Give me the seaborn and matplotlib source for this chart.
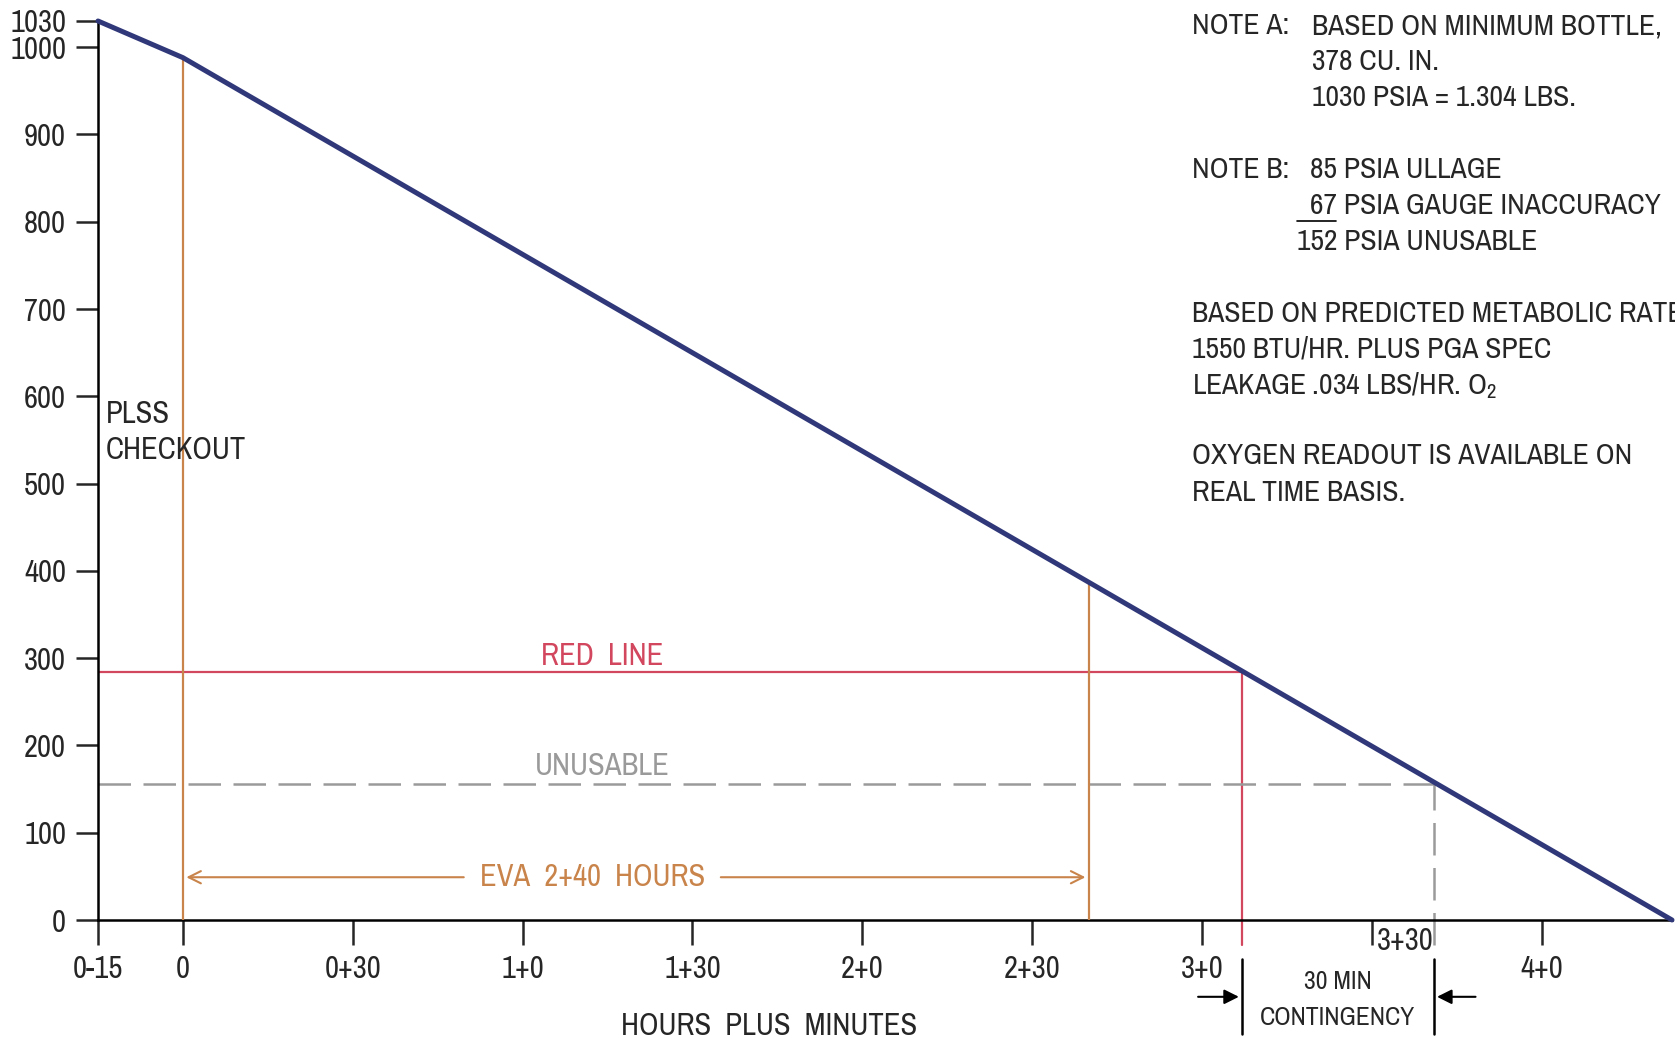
import matplotlib
matplotlib.use('Agg')
import matplotlib.pyplot as plt
from matplotlib import font_manager
import seaborn as sns
import pandas as pd

# PLSS O2 bottle pressure vs time (minutes from PLSS checkout)
time_min = [-15, 0, 263]
o2_psia = [1030, 988, 0]

xtick_pos = [-15, 0, 30, 60, 90, 120, 150, 180, 210, 240]
xtick_labels = ['0-15', '0', '0+30', '1+0', '1+30', '2+0', '2+30', '3+0', '', '4+0']
ytick_pos = [0, 100, 200, 300, 400, 500, 600, 700, 800, 900, 1000, 1030]

red_line_psia = 284
unusable_psia = 156
eva_start, eva_end = 0, 160
red_line_time = 187
unusable_time = 221

notes = [
    ('NOTE A:', 1192, 26), ('BASED ON MINIMUM BOTTLE,', 1312, 26),
    ('378 CU. IN.', 1312, 62), ('1030 PSIA = 1.304 LBS.', 1312, 98),
    ('NOTE B:', 1192, 169), ('85 PSIA ULLAGE', 1310, 169),
    ('67 PSIA GAUGE INACCURACY', 1310, 205), ('152 PSIA UNUSABLE', 1297, 241),
    ('BASED ON PREDICTED METABOLIC RATE', 1192, 313),
    ('1550 BTU/HR. PLUS PGA SPEC', 1192, 349),
    (r'LEAKAGE .034 LBS/HR. O$_2$', 1192, 386),
    ('OXYGEN READOUT IS AVAILABLE ON', 1192, 456),
    ('REAL TIME BASIS.', 1192, 492),
]

navy = '#30387a'
orange = '#c9844b'
red = '#d2475e'
gray = '#9a9a9a'

# look for a narrow sans face (the drawing uses a condensed Helvetica-like font)
fonts = font_manager.fontManager.ttflist
names = sorted({f.name for f in fonts})
narrow = [n for n in names if 'Narrow' in n or 'Condensed' in n]
narrow += sorted({f.name for f in fonts if f.stretch in ('condensed', 'semi-condensed', 'extra-condensed', 375, 500)})
pref = [n for n in narrow if 'Liberation' in n] + [n for n in narrow if 'Liberation' not in n]
family = (pref[:1] if pref else []) + ['Liberation Sans', 'DejaVu Sans']
size_scale = 1.0 if pref else 0.84

sns.set_style('ticks')
plt.rcParams['font.family'] = family
plt.rcParams['mathtext.fontset'] = 'custom'
plt.rcParams['mathtext.rm'] = family[0]
plt.rcParams['mathtext.it'] = family[0]

fs = 22 * size_scale
fs_small = 18.5 * size_scale
fs_notes = 21.3 * size_scale

W, H = 1675, 1041
fig = plt.figure(figsize=(W / 100, H / 100), dpi=100)
ax = fig.add_axes([98 / W, 1 - 920 / H, (1672 - 98) / W, (920 - 21) / H])

df = pd.DataFrame({'t': time_min, 'p': o2_psia})
sns.lineplot(data=df, x='t', y='p', ax=ax, color=navy, lw=3.6, clip_on=False,
             solid_joinstyle='miter', zorder=5)

def line_value(t):
    return o2_psia[1] + (o2_psia[2] - o2_psia[1]) * (t - time_min[1]) / (time_min[2] - time_min[1])

# orange EVA verticals
for t in (eva_start, eva_end):
    ax.plot([t, t], [0, line_value(t)], color=orange, lw=1.6, zorder=3)

# red line
ax.plot([time_min[0], red_line_time], [red_line_psia, red_line_psia], color=red, lw=1.6)
ax.plot([red_line_time, red_line_time], [-29, red_line_psia], color=red, lw=1.6, clip_on=False)
ax.text(74, 303, 'RED  LINE', color=red, fontsize=fs, ha='center', va='center')

# unusable
ax.plot([time_min[0], unusable_time], [unusable_psia, unusable_psia], color=gray, lw=1.8,
        dashes=(13, 5))
ax.plot([unusable_time, unusable_time], [-29, unusable_psia], color=gray, lw=1.8,
        dashes=(13, 5), clip_on=False)
ax.text(74, 176, 'UNUSABLE', color=gray, fontsize=fs, ha='center', va='center')

# EVA arrows
ax.text(72.3, 49, 'EVA  2+40  HOURS', color=orange, fontsize=fs, ha='center', va='center')
arr = dict(arrowstyle='->', color=orange, lw=1.5, mutation_scale=22, shrinkA=0, shrinkB=0)
ax.annotate('', xy=(eva_start + 0.6, 49), xytext=(49.6, 49), arrowprops=arr)
ax.annotate('', xy=(eva_end - 0.6, 49), xytext=(95, 49), arrowprops=arr)

ax.text(-13.6, 580, 'PLSS', fontsize=fs, ha='left', va='center')
ax.text(-13.6, 538, 'CHECKOUT', fontsize=fs, ha='left', va='center')

# contingency
for t in (red_line_time, unusable_time):
    ax.plot([t, t], [-45, -131], color='black', lw=1.8, clip_on=False)
karr = dict(arrowstyle='-|>', color='black', lw=1.5, mutation_scale=22, shrinkA=0, shrinkB=0)
ax.annotate('', xy=(red_line_time - 0.5, -88), xytext=(179.3, -88), arrowprops=karr,
            annotation_clip=False)
ax.annotate('', xy=(unusable_time + 0.5, -88), xytext=(228.3, -88), arrowprops=karr,
            annotation_clip=False)
ax.text(204, -71, '30 MIN', fontsize=fs_small, ha='center', va='center', clip_on=False)
ax.text(204, -112, 'CONTINGENCY', fontsize=fs_small, ha='center', va='center', clip_on=False)
ax.text(210.9, -24, '3+30', fontsize=fs, ha='left', va='center', clip_on=False)

ax.set_xlim(time_min[0], time_min[2])
ax.set_ylim(0, 1030)
ax.set_xticks(xtick_pos)
ax.set_xticklabels(xtick_labels)
ax.set_yticks(ytick_pos)
ax.set_yticklabels([str(v) for v in ytick_pos])
ax.tick_params(axis='x', length=18, width=1.8, pad=7, labelsize=fs)
ax.tick_params(axis='y', length=16, width=1.8, pad=7, labelsize=fs)
ax.set_xlabel('')
ax.set_ylabel('')
sns.despine(ax=ax)
for s in ('left', 'bottom'):
    ax.spines[s].set_linewidth(1.8)
    ax.spines[s].set_color('black')

fig.text(769 / W, 1 - 1026 / H, 'HOURS  PLUS  MINUTES', fontsize=fs, ha='center', va='center')

for txt, x, y in notes:
    fig.text(x / W, 1 - y / H, txt, fontsize=fs_notes, ha='left', va='center')
fig.add_artist(plt.Line2D([1297 / W, 1336 / W], [1 - 221 / H, 1 - 221 / H],
                          color='black', lw=1.2, transform=fig.transFigure))

fig.savefig('out.png', dpi=100)
